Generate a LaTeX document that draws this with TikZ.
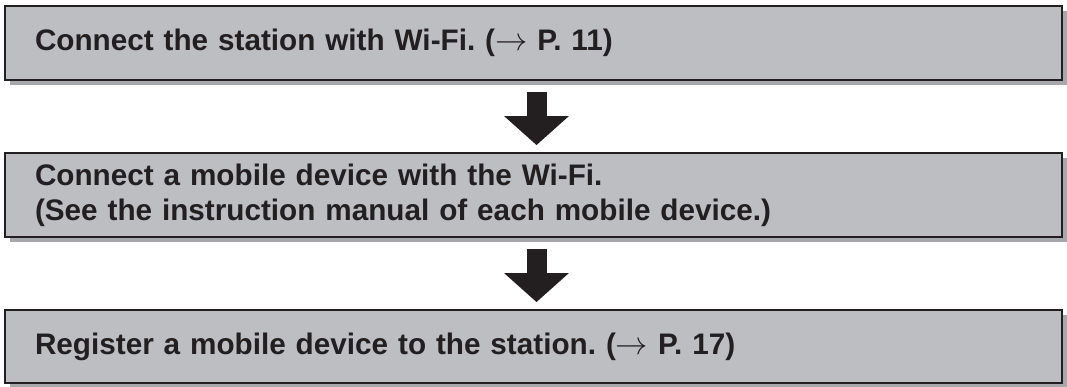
\documentclass[tikz,border=0pt]{standalone}
\usepackage{fontspec}
\setmainfont{Liberation Sans}
\usepackage{tikz}
\usetikzlibrary{arrows.meta,shadows,positioning}
\definecolor{boxgray}{HTML}{BDBEC2}
\definecolor{shadegray}{HTML}{A6A8AB}
\definecolor{inkblack}{HTML}{231F20}
\frenchspacing
\newcommand{\pagearrow}{\scalebox{1.3}{$\rightarrow$}}

\begin{document}
\begin{tikzpicture}[x=1pt, y=-1pt, stepbox/.style = {draw=inkblack, line width=2pt, fill=boxgray, text=inkblack, align=left, text width=997pt, inner xsep=30pt, inner ysep=0pt, font=\fontsize{29.7pt}{35pt}\selectfont\bfseries, drop shadow={shadow xshift=5pt, shadow yshift=-5pt, fill=shadegray, opacity=1}}, flowarrow/.style = {draw=inkblack, line width=20pt, -{Triangle[width=65pt, length=29pt, line width=0pt]}, shorten <=11pt, shorten >=7pt}, node distance=71pt]
	\useasboundingbox (0,0) rectangle (1067,386);
	\node [stepbox, minimum height=74pt] (wifi) at (533.5,43) {Connect the station with Wi-Fi. (\pagearrow\ P. 11)};
	\node [stepbox, minimum height=84pt, below=of wifi] (mobile) {Connect a mobile device with the Wi-Fi.\\(See the instruction manual of each mobile device.)};
	\node [stepbox, minimum height=73pt, below=of mobile] (register) {Register a mobile device to the station. (\pagearrow\ P. 17)};
	\draw [flowarrow] ([xshift=3pt]wifi.south) -- ([xshift=3pt]mobile.north);
	\draw [flowarrow] ([xshift=3pt]mobile.south) -- ([xshift=3pt]register.north);
\end{tikzpicture}
\end{document}
